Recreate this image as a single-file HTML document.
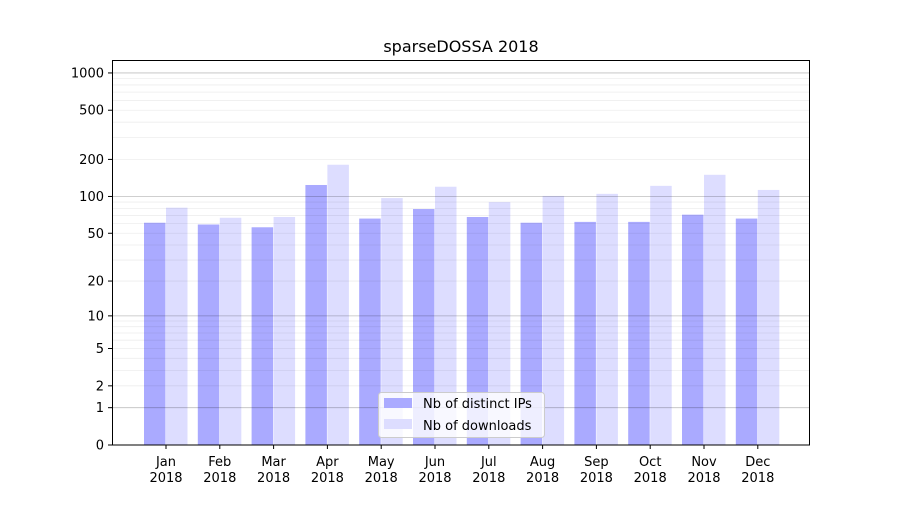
<!DOCTYPE html>
<html><head><meta charset="utf-8"><style>
body{margin:0;background:#fff}
svg text{font-family:"DejaVu Sans","Liberation Sans",sans-serif;fill:#000}
</style></head><body>
<svg width="900" height="500" viewBox="0 0 900 500" xmlns="http://www.w3.org/2000/svg">
<rect width="900" height="500" fill="#fff"/>
<g id="bars"></g>
<g id="grid"></g>
<rect x="112.5" y="60.5" width="697" height="384.5" fill="none" stroke="#000" stroke-width="1"/>
<g id="yt" font-size="13"></g>
<g id="xt" font-size="13"></g>
<text x="461" y="52" font-size="16" text-anchor="middle">sparseDOSSA 2018</text>
<g>
<rect x="378.5" y="392.5" width="166" height="45" rx="3" fill="#fff" fill-opacity="0.8" stroke="#ccc"/>
<rect x="384" y="398" width="28" height="10" fill="#aaaaff"/>
<text x="423" y="408" font-size="13">Nb of distinct IPs</text>
<rect x="384" y="419" width="28" height="10" fill="#ddddff"/>
<text x="423" y="430" font-size="13">Nb of downloads</text>
</g>
</svg>
<script>
const ns="http://www.w3.org/2000/svg";
function Y(v){return 445-124*Math.log10(1+v);}
function el(p,t,a,txt){const e=document.createElementNS(ns,t);for(const k in a)e.setAttribute(k,a[k]);if(txt!==undefined)e.textContent=txt;document.getElementById(p).appendChild(e);}
[2,3,4,5,6,7,8,9,20,30,40,50,60,70,80,90,200,300,400,500,600,700,800,900].forEach(v=>{const y=Y(v);el("grid","line",{x1:113,x2:810,y1:y,y2:y,stroke:"#000","stroke-opacity":0.07,"stroke-width":0.8});});
[1,10,100,1000].forEach(v=>{const y=Y(v);el("grid","line",{x1:113,x2:810,y1:y,y2:y,stroke:"#000","stroke-opacity":0.25,"stroke-width":0.8});});
[0,1,2,5,10,20,50,100,200,500,1000].forEach(v=>{const y=Y(v);el("yt","line",{x1:108,x2:112,y1:y,y2:y,stroke:"#000"});el("yt","text",{x:104,y:y+4.5,"text-anchor":"end"},String(v));});
const ips=[61,59,56,124,66,79,68,61,62,62,71,66];
const dl=[81,67,68,181,97,120,90,101,105,122,150,113];
const m=["Jan","Feb","Mar","Apr","May","Jun","Jul","Aug","Sep","Oct","Nov","Dec"];
for(let i=0;i<12;i++){const c=166+i*53.8;
el("bars","rect",{x:c-22,y:Y(ips[i]),width:21.5,height:445-Y(ips[i]),fill:"#aaaaff"});
el("bars","rect",{x:c,y:Y(dl[i]),width:21.5,height:445-Y(dl[i]),fill:"#ddddff"});
el("xt","line",{x1:c,x2:c,y1:445,y2:449,stroke:"#000"});
el("xt","text",{x:c,y:466,"text-anchor":"middle"},m[i]);
el("xt","text",{x:c,y:482,"text-anchor":"middle"},"2018");}
</script>
</body></html>
